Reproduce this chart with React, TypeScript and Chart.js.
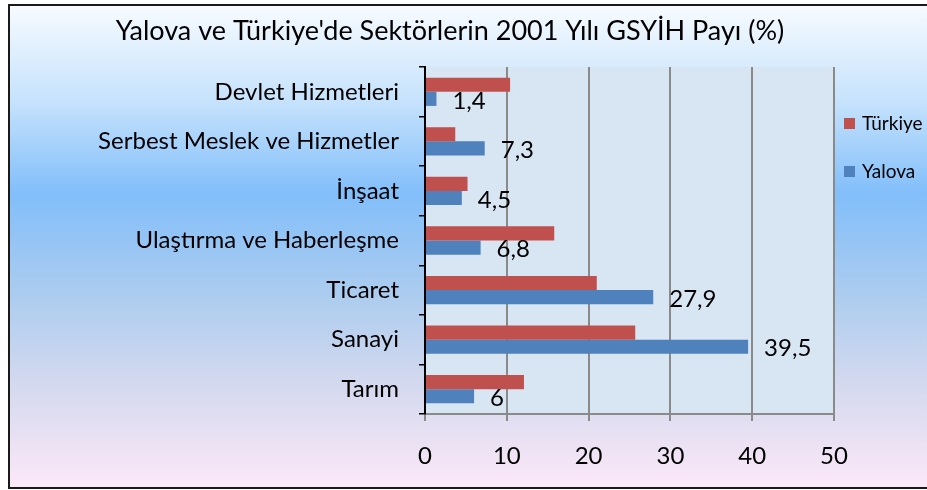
import React, { useEffect, useRef } from "react";
import { Chart, registerables } from "chart.js";

Chart.register(...registerables);

const titleText = "Yalova ve Türkiye'de Sektörlerin 2001 Yılı GSYİH Payı (%)";
const categories = [
  "Devlet Hizmetleri",
  "Serbest Meslek ve Hizmetler",
  "İnşaat",
  "Ulaştırma ve Haberleşme",
  "Ticaret",
  "Sanayi",
  "Tarım",
];
const turkiyeValues = [10.4, 3.7, 5.2, 15.8, 21.0, 25.7, 12.1];
const yalovaValues = [1.4, 7.3, 4.5, 6.8, 27.9, 39.5, 6];
const seriesNames = ["Türkiye", "Yalova"];
const seriesColors = ["#c0504d", "#4f81bd"];
const xMin = 0;
const xMax = 50;
const xStep = 10;

const FONT = "Lato, 'Open Sans', sans-serif";

const fmt = (v: number) => String(v).replace(".", ",");

const bgPlugin = {
  id: "bgPlugin",
  beforeDraw(chart: any) {
    const { ctx, width, height, chartArea } = chart;
    ctx.save();
    ctx.fillStyle = "#ffffff";
    ctx.fillRect(0, 0, width, height);
    const top = 5, left = 9, bottom = 488;
    const g = ctx.createLinearGradient(0, top, 0, bottom);
    g.addColorStop(0, "#f7fbff");
    g.addColorStop(0.2, "#c6e2fc");
    g.addColorStop(0.39, "#82befa");
    g.addColorStop(0.6, "#acccef");
    g.addColorStop(0.8, "#d7daef");
    g.addColorStop(1, "#fce8f8");
    ctx.fillStyle = g;
    ctx.fillRect(left, top, width - left + 5, bottom - top);
    ctx.strokeStyle = "#1a1a1a";
    ctx.lineWidth = 2;
    ctx.strokeRect(left, top, width - left + 5, bottom - top);
    // plot area
    ctx.fillStyle = "#d8e5f3";
    ctx.fillRect(chartArea.left, chartArea.top, chartArea.right - chartArea.left, chartArea.bottom - chartArea.top);
    // title
    ctx.fillStyle = "#000";
    ctx.font = `27px ${FONT}`;
    ctx.textAlign = "center";
    ctx.textBaseline = "middle";
    ctx.fillText(titleText, 450, 31);
    ctx.restore();
  },
  afterDatasetsDraw(chart: any) {
    const { ctx } = chart;
    ctx.save();
    // data labels for Yalova
    const meta = chart.getDatasetMeta(1);
    ctx.font = `24px ${FONT}`;
    ctx.fillStyle = "#000";
    ctx.textAlign = "left";
    ctx.textBaseline = "middle";
    meta.data.forEach((el: any, i: number) => {
      ctx.fillText(fmt(chart.data.datasets[1].data[i]), el.x + 16, el.y + 2);
    });
    // legend
    const lx = chart.chartArea.right + 10;
    const ly = [124, 172];
    ctx.font = `19px ${FONT}`;
    chart.data.datasets.forEach((ds: any, i: number) => {
      ctx.fillStyle = ds.backgroundColor;
      ctx.fillRect(lx, ly[i] - 6, 11, 11);
      ctx.fillStyle = "#000";
      ctx.fillText(ds.label, lx + 18, ly[i]);
    });
    ctx.restore();
  },
};

export default function App() {
  const ref = useRef<HTMLCanvasElement | null>(null);
  useEffect(() => {
    document.body.style.margin = "0";
    const canvas = ref.current!;
    const chart = new Chart(canvas, {
      type: "bar",
      data: {
        labels: categories,
        datasets: [
          {
            label: seriesNames[0],
            data: turkiyeValues,
            backgroundColor: seriesColors[0],
            borderWidth: 0,
            barPercentage: 1,
            categoryPercentage: 0.57,
          },
          {
            label: seriesNames[1],
            data: yalovaValues,
            backgroundColor: seriesColors[1],
            borderWidth: 0,
            barPercentage: 1,
            categoryPercentage: 0.57,
          },
        ],
      },
      options: {
        indexAxis: "y",
        animation: false,
        responsive: false,
        devicePixelRatio: 1,
        layout: { padding: { top: 67, right: 93, bottom: 0, left: 0 } },
        plugins: {
          legend: { display: false },
          title: { display: false },
          tooltip: { enabled: false },
        },
        scales: {
          x: {
            min: xMin,
            max: xMax,
            ticks: {
              stepSize: xStep,
              color: "#000",
              font: { family: FONT, size: 24 },
              padding: 21,
            },
            grid: {
              color: "#8a8a8a",
              lineWidth: 2,
              tickLength: 7,
              drawOnChartArea: true,
            },
            border: { color: "#8a8a8a", width: 2 },
            afterFit: (s: any) => {
              s.height = 76;
            },
          },
          y: {
            ticks: {
              color: "#000",
              font: { family: FONT, size: 24 },
              padding: 20,
            },
            grid: {
              drawOnChartArea: false,
              color: "#000",
              lineWidth: 1.5,
              tickLength: 6,
            },
            border: { color: "#000", width: 2 },
            afterFit: (s: any) => {
              s.width = 425;
            },
          },
        },
      },
      plugins: [bgPlugin],
    });
    return () => chart.destroy();
  }, []);
  return (
    <div style={{ position: "absolute", left: 0, top: 0, width: 927, height: 490 }}>
      <canvas ref={ref} width={927} height={490} />
    </div>
  );
}
